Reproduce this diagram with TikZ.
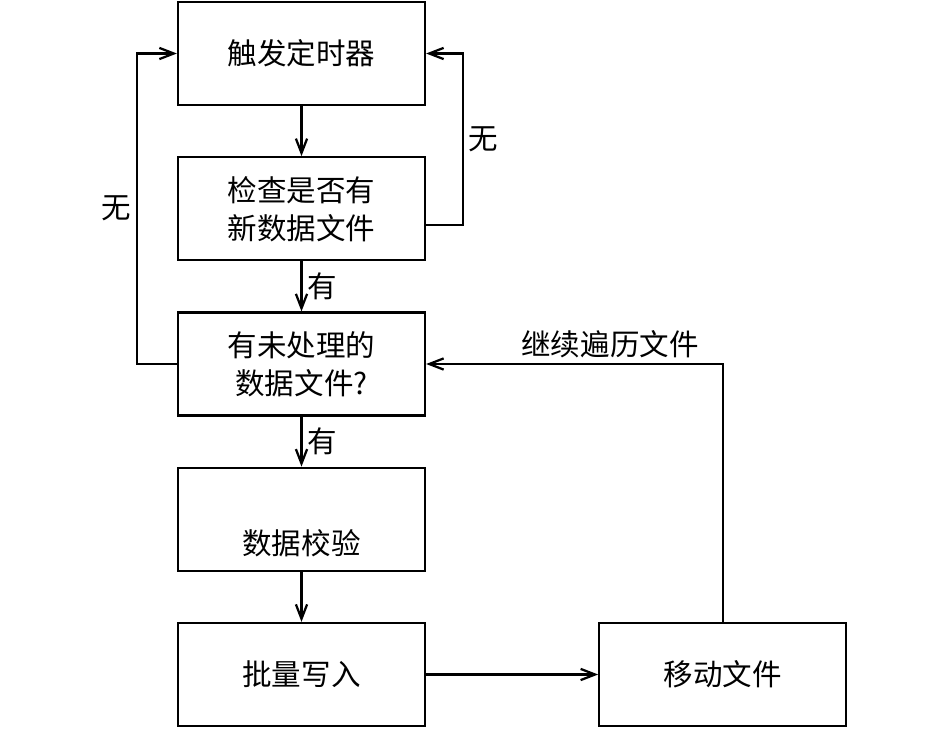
\documentclass[tikz,border=0pt]{standalone}
\usepackage{fontspec}
\setmainfont{Liberation Serif}
\newfontfamily\cjk{Noto Sans CJK SC}
\usetikzlibrary{arrows.meta, positioning}

\begin{document}
\begin{tikzpicture}[
    line width=1.6pt,
    box/.style={draw, minimum width=6.175cm, minimum height=2.575cm, align=center},
    arr/.style={-{Straight Barb[length=3.6mm, width=2.8mm]}},
    font=\cjk\fontsize{21}{27}\selectfont
]
    \useasboundingbox (0,0) rectangle (23.625,-18.3);

    % main column
    \node[box] (timer) at (7.5375,-1.3375) {触发定时器};
    \node[box, below=1.25cm of timer] (check) {检查是否有\\新数据文件};
    \node[box, below=1.25cm of check] (pending) {有未处理的\\数据文件?};
    \node[box, below=1.25cm of pending] (verify) {\strut\\[6pt]数据校验};
    \node[box, below=1.25cm of verify] (write) {批量写入};
    \node[box, right=4.3cm of write] (move) {移动文件};

    \draw[arr] (timer) -- (check);
    \draw[arr] (check) -- node[right] {有} (pending);
    \draw[arr] (pending) -- node[right] {有} (verify);
    \draw[arr] (verify) -- (write);
    \draw[arr] (write) -- (move);

    % loops back
    \draw[arr] ([yshift=-0.4cm]check.east) -- ++(0.925,0) |- node[pos=0.25, right] {无} (timer.east);
    \draw[arr] (pending.west) -- ++(-1,0) |- node[pos=0.25, left] {无} (timer.west);
    \draw[arr] (move.north) |- node[pos=0.69, above] {继续遍历文件} (pending.east);
\end{tikzpicture}
\end{document}
